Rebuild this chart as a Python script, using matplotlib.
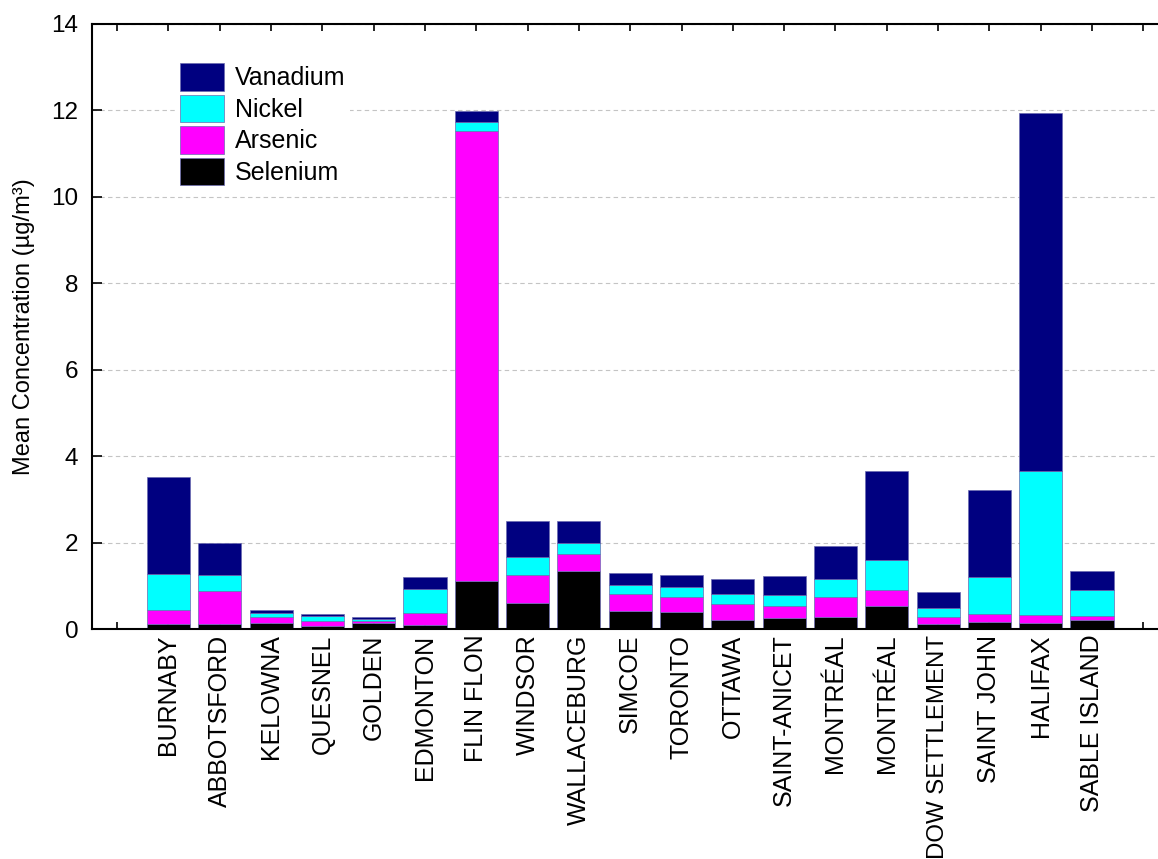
import matplotlib
matplotlib.use("Agg")
import matplotlib.pyplot as plt
import numpy as np

# Monitoring sites, west to east
sites = ["BURNABY", "ABBOTSFORD", "KELOWNA", "QUESNEL", "GOLDEN", "EDMONTON",
         "FLIN FLON", "WINDSOR", "WALLACEBURG", "SIMCOE", "TORONTO", "OTTAWA",
         "SAINT-ANICET", "MONTRÉAL", "MONTRÉAL", "DOW SETTLEMENT", "SAINT JOHN",
         "HALIFAX", "SABLE ISLAND"]

# Mean concentration of each element per site (µg/m³), stacked bottom to top
selenium = [0.11, 0.12, 0.15, 0.07, 0.13, 0.10, 1.11, 0.61, 1.34, 0.42,
            0.385, 0.20, 0.26, 0.28, 0.525, 0.12, 0.17, 0.15, 0.215]
arsenic = [0.33, 0.76, 0.12, 0.115, 0.055, 0.28, 10.42, 0.64, 0.40, 0.38,
           0.355, 0.385, 0.28, 0.45, 0.385, 0.15, 0.18, 0.18, 0.085]
nickel = [0.84, 0.36, 0.09, 0.105, 0.055, 0.54, 0.20, 0.42, 0.24, 0.21,
          0.225, 0.225, 0.24, 0.42, 0.69, 0.22, 0.86, 3.33, 0.61]
vanadium = [2.24, 0.74, 0.07, 0.06, 0.04, 0.28, 0.25, 0.83, 0.52, 0.28,
            0.295, 0.35, 0.45, 0.77, 2.06, 0.37, 2.00, 8.29, 0.43]

series = [("Selenium", selenium, "#000000"),
          ("Arsenic", arsenic, "#ff00ff"),
          ("Nickel", nickel, "#00ffff"),
          ("Vanadium", vanadium, "#000080")]

plt.rcParams['font.family'] = ['Liberation Sans', 'DejaVu Sans']

fig = plt.figure(figsize=(11.58, 8.59), dpi=100)
ax = fig.add_axes([91.5 / 1158, 230 / 859, (1169 - 91.5) / 1158, 605 / 859])

x = np.arange(len(sites))
bottom = np.zeros(len(sites))
handles = []
for name, vals, color in series:
    vals = np.asarray(vals)
    b = ax.bar(x, vals, width=0.84, bottom=bottom, color=color,
               edgecolor="#6a6ab0", linewidth=0.5, label=name, zorder=2)
    handles.append(b)
    bottom = bottom + vals

ax.set_xlim(-1.5, 19.5)
ax.set_ylim(0, 14)
ax.set_yticks(np.arange(0, 15, 2))
ax.yaxis.grid(True, linestyle=(0, (4, 3)), color="#c4c4c4", linewidth=0.8)
ax.set_axisbelow(True)

ticks = np.arange(-1, len(sites) + 1)
ax.set_xticks(ticks)
ax.set_xticklabels([""] + sites + [""], rotation=90)

ax.tick_params(axis="x", direction="in", length=5, width=1.2, top=True,
               labelsize=18, pad=4)
ax.tick_params(axis="y", direction="in", length=7, width=1.2,
               labelsize=17.5, pad=9.5)

# the longest site name is set a touch smaller so it stays on the canvas
for lbl in ax.get_xticklabels():
    if len(lbl.get_text()) > 12:
        lbl.set_fontsize(17.3)

for side in ("left", "top", "bottom"):
    ax.spines[side].set_linewidth(1.5)
ax.spines["right"].set_visible(False)

ax.set_ylabel("Mean Concentration (µg/m³)", fontsize=17)
ax.yaxis.set_label_coords(-0.0524, 0.5)

leg = ax.legend(handles=handles[::-1], labels=[s[0] for s in series[::-1]],
                loc="upper left", bbox_to_anchor=(0.0789, 0.9413),
                borderaxespad=0, fontsize=18, handlelength=1.76,
                handleheight=1.3, labelspacing=0.17, handletextpad=0.44,
                borderpad=0.15, frameon=True, framealpha=1, fancybox=False,
                edgecolor="none")

fig.savefig("out.png", dpi=100)
